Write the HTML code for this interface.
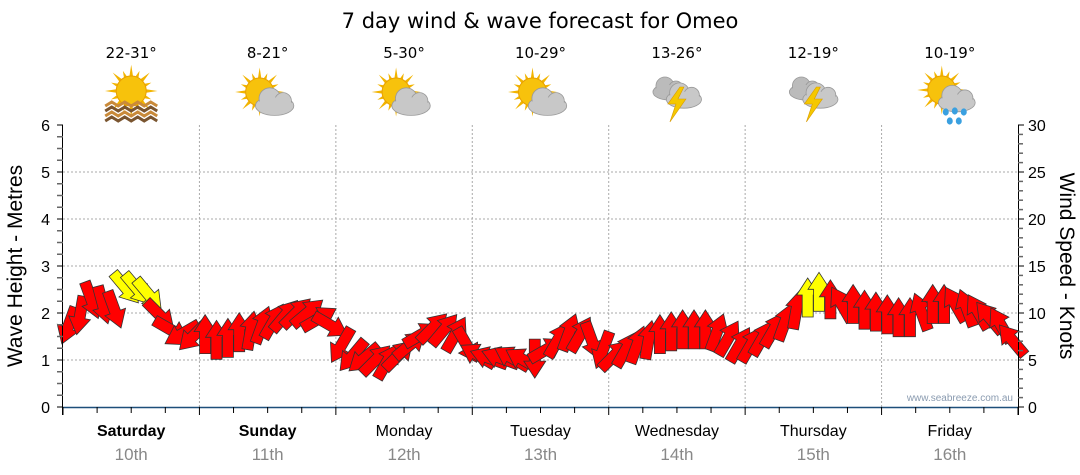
<!DOCTYPE html>
<html><head><meta charset="utf-8">
<style>
html,body{margin:0;padding:0;background:#fff;}
svg{display:block;}
</style></head>
<body>
<svg id="chart" width="1080" height="475" xmlns="http://www.w3.org/2000/svg">
<text x="540" y="28" text-anchor="middle" font-family="DejaVu Sans, sans-serif" font-size="21" fill="#000">7 day wind &amp; wave forecast for Omeo</text>
<g id="icons"></g>
<g id="grid"></g>
<g id="marks"></g>
<g id="axes"></g>
<text transform="translate(22,266) rotate(-90)" text-anchor="middle" font-family="Liberation Sans, sans-serif" font-size="21" fill="#000">Wave Height - Metres</text>
<text transform="translate(1060,266) rotate(90)" text-anchor="middle" font-family="Liberation Sans, sans-serif" font-size="21" fill="#000">Wind Speed - Knots</text>
<text x="1013" y="401" text-anchor="end" font-family="Liberation Sans, sans-serif" font-size="10" fill="#8a9bb0">www.seabreeze.com.au</text>
</svg>
<script>
const days = ["Saturday","Sunday","Monday","Tuesday","Wednesday","Thursday","Friday"];
const dates = ["10th","11th","12th","13th","14th","15th","16th"];
const temps = ["22-31°","8-21°","5-30°","10-29°","13-26°","12-19°","10-19°"];
const iconTypes = ["haze","partly","partly","partly","storm","storm","rain"];
const waveTicks = [0,1,2,3,4,5,6];
const windTicks = [0,5,10,15,20,25,30];
const windSpeed = [
 8.7,9.8,11.4,10.9,10.4,12.7,12.6,12.0,9.8,8.2,7.8,7.6,
 7.7,7.1,7.3,7.9,8.1,8.7,9.1,9.7,10.0,10.0,9.4,8.7,
 6.6,5.5,5.2,5.0,4.8,5.5,6.6,7.7,8.4,8.2,7.7,6.6,
 5.5,5.2,5.2,5.2,5.0,5.2,6.1,7.1,7.9,7.7,7.1,6.1,
 5.5,6.1,6.6,7.1,7.7,8.0,8.2,8.2,8.2,7.9,7.3,6.6,
 6.6,7.3,8.2,9.0,10.3,11.6,12.2,11.4,10.9,10.9,10.3,10.1,
 9.8,9.5,9.5,10.1,10.9,10.9,10.9,10.5,10.1,9.5,8.7,7.1];
const windDir = [
 200,190,160,165,160,140,140,140,135,120,240,225,
 0,0,0,0,10,20,30,40,45,50,60,120,
 210,220,230,45,30,45,50,60,45,40,30,150,
 300,290,290,300,300,180,60,30,20,30,160,200,
 45,30,20,10,0,0,0,0,0,20,30,30,
 30,30,30,20,10,0,0,0,330,0,0,0,
 0,0,0,340,0,0,330,340,330,320,330,320];
const gustFlag = [
 0,0,0,0,0,1,1,1,0,0,0,0, 0,0,0,0,0,0,0,0,0,0,0,0, 0,0,0,0,0,0,0,0,0,0,0,0,
 0,0,0,0,0,0,0,0,0,0,0,0, 0,0,0,0,0,0,0,0,0,0,0,0, 0,0,0,0,0,1,1,0,0,0,0,0,
 0,0,0,0,0,0,0,0,0,0,0,0];

const NS="http://www.w3.org/2000/svg";
const X0=63,X1=1018,Y0=407,Y1=125,DW=(X1-X0)/7;
const yW=v=>Y0-(v/6)*(Y0-Y1);
const yK=v=>Y0-(v/30)*(Y0-Y1);
const xT=i=>X0+(i+0.5)*DW/12;
function mk(tag,attrs,parent){const e=document.createElementNS(NS,tag);for(const k in attrs)e.setAttribute(k,attrs[k]);parent.appendChild(e);return e;}
const grid=document.getElementById('grid'),axes=document.getElementById('axes'),marks=document.getElementById('marks'),icons=document.getElementById('icons');

waveTicks.forEach(t=>{if(t>0&&t<6){const l=mk('line',{x1:X0,x2:X1,y1:yW(t),y2:yW(t),stroke:'#aaa','stroke-dasharray':'2,2','stroke-width':1},grid);

}});
for(let d=1;d<7;d++){const l=mk('line',{x1:X0+d*DW,x2:X0+d*DW,y1:Y1,y2:Y0,stroke:'#aaa','stroke-dasharray':'2,2','stroke-width':1},grid);

}

mk('line',{x1:X0-0.5,x2:X0-0.5,y1:Y1,y2:Y0+8,stroke:'#000'},axes);
mk('line',{x1:X1+0.5,x2:X1+0.5,y1:Y1,y2:Y0+8,stroke:'#000'},axes);
mk('line',{x1:X0,x2:X1,y1:Y0+0.5,y2:Y0+0.5,stroke:'#1d4f7a','stroke-width':1.5},axes);
for(let m=0;m<=24;m++){const y=yW(m/4);
 mk('line',{x1:X0-6,x2:X0,y1:y,y2:y,stroke:m%4?'#666':'#000','stroke-width':m%4?1.5:1},axes);}
waveTicks.forEach(t=>{const tx=mk('text',{x:50,y:yW(t)+6,'text-anchor':'end','font-family':'Liberation Sans, sans-serif','font-size':16,fill:'#000'},axes);tx.textContent=t;

});
for(let m=0;m<=30;m++){const y=yK(m);
 mk('line',{x1:X1,x2:X1+(m%5?5:6),y1:y,y2:y,stroke:m%5?'#666':'#000','stroke-width':m%5?1.5:1},axes);}
windTicks.forEach(t=>{const tx=mk('text',{x:1028,y:yK(t)+6,'text-anchor':'start','font-family':'Liberation Sans, sans-serif','font-size':16,fill:'#000'},axes);tx.textContent=t;

});
for(let q=0;q<=28;q++){const x=X0+q*DW/4;mk('line',{x1:x,x2:x,y1:Y0,y2:Y0+(q%4?6:8),stroke:'#000'},axes);}
days.forEach((d,i)=>{const cx=X0+(i+0.5)*DW;
 const t=mk('text',{x:cx,y:436,'text-anchor':'middle','font-family':'Liberation Sans, sans-serif','font-size':16,'font-weight':i<2?'bold':'normal',fill:'#000'},axes);t.textContent=d;
 
 
 const t2=mk('text',{x:cx,y:460,'text-anchor':'middle','font-family':'Liberation Sans, sans-serif','font-size':17,fill:'#888'},axes);t2.textContent=dates[i];
 
 
 const t3=mk('text',{x:cx,y:58,'text-anchor':'middle','font-family':'DejaVu Sans, sans-serif','font-size':15,fill:'#000'},icons);t3.textContent=temps[i];
 
 
 drawIcon(iconTypes[i],cx,97);
});

function sun(g,cx,cy,r){
 for(let a=0;a<360;a+=22.5){const rad=a*Math.PI/180,L=(a%45?r*1.45:r*1.75);
  mk('polygon',{points:`${cx+Math.cos(rad)*L},${cy+Math.sin(rad)*L} ${cx+Math.cos(rad+0.15)*r*0.9},${cy+Math.sin(rad+0.15)*r*0.9} ${cx+Math.cos(rad-0.15)*r*0.9},${cy+Math.sin(rad-0.15)*r*0.9}`,fill:'#f2b400'},g);}
 mk('circle',{cx,cy,r,fill:'#f7c20c',stroke:'#e8a000','stroke-width':1},g);
}
function cloud(g,cx,cy,s,col){
 col=col||'#c8c8c8';
 mk('ellipse',{cx:cx,cy:cy+4*s,rx:16*s,ry:8*s,fill:col,stroke:'#999','stroke-width':0.8},g);
 mk('circle',{cx:cx-4*s,cy:cy-2*s,r:9*s,fill:col,stroke:'#999','stroke-width':0.8},g);
 mk('circle',{cx:cx+7*s,cy:cy,r:7*s,fill:col,stroke:'#999','stroke-width':0.8},g);
 mk('ellipse',{cx:cx,cy:cy+4*s,rx:15*s,ry:7*s,fill:col},g);
}
function drawIcon(type,cx,cy){
 const g=mk('g',{},icons);
 
 
 if(type==='haze'){sun(g,cx,cy-6,15);
  for(let k=0;k<4;k++){let d='';for(let j=0;j<=8;j++){const x=cx-26+j*6.5,y=cy+7+k*5+(j%2?-2:2);d+=(j?'L':'M')+x+','+y;}
   mk('path',{d,fill:'none',stroke:k%2?'#7a5530':'#c98a3a','stroke-width':3},g);}}
 else if(type==='partly'){sun(g,cx-8,cy-5,14);cloud(g,cx+7,cy+4,1.2);}
 else if(type==='storm'){cloud(g,cx-8,cy-9,1.0,'#bbb');cloud(g,cx+7,cy-2,1.1);
  mk('polygon',{points:`${cx+3},${cy-10} ${cx-9},${cy+7} ${cx-1},${cy+7} ${cx-7},${cy+25} ${cx+9},${cy+2} ${cx+1},${cy+2} ${cx+7},${cy-10}`,fill:'#f5c800',stroke:'#d89a00','stroke-width':0.6},g);}
 else if(type==='rain'){sun(g,cx-8,cy-7,14);cloud(g,cx+7,cy+1,1.15);
  [[-4,15],[5,14],[14,15],[0,24],[9,24]].forEach(p=>mk('ellipse',{cx:cx+p[0],cy:cy+p[1],rx:3,ry:3.6,fill:'#3aa0e0'},g));}
}

windSpeed.forEach((v,i)=>{
 const x=xT(i),y=yK(v);
 const a=mk('polygon',{points:'0,-20 11,-3 5.5,-3 5.5,19 -5.5,19 -5.5,-3 -11,-3',
  transform:`translate(${x.toFixed(1)},${y.toFixed(1)}) rotate(${windDir[i]})`,
  fill:gustFlag[i]?'#ffff00':'#ff0000',stroke:'#333','stroke-width':0.8},marks);
 
 
});
</script>
</body></html>
